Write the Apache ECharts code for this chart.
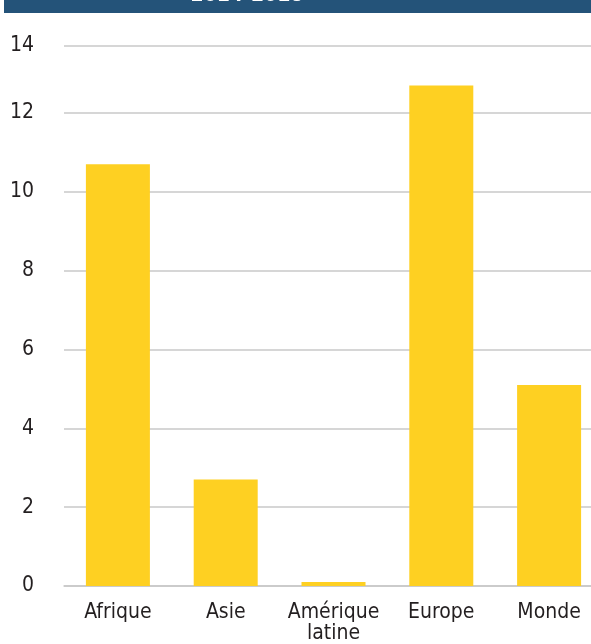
<!DOCTYPE html>
<html>
<head>
<meta charset="utf-8">
<script src="https://cdn.jsdelivr.net/npm/echarts@6/dist/echarts.min.js"></script>
<style>
html,body{margin:0;padding:0;background:#fff;overflow:hidden;width:591px;height:644px;}
#chart{width:603px;height:644px;}
</style>
</head>
<body>
<div id="chart"></div>
<script>
const title = '2014-2018';
const categories = ['Afrique', 'Asie', 'Amérique\nlatine', 'Europe', 'Monde'];
const values = [10.7, 2.7, 0.1, 12.7, 5.1];
const tickLabels = ['0', '2', '4', '6', '8', '10', '12', '14'];

const FONT = "'Liberation Sans Narrow', 'Arial Narrow', 'DejaVu Sans Condensed', sans-serif";
const chart = echarts.init(document.getElementById('chart'));
chart.setOption({
  animation: false,
  graphic: [
    { type: 'rect', shape: { x: 4, y: 0, width: 599, height: 13 }, style: { fill: '#245379' } },
    { type: 'text', x: 247, y: 6, style: { text: title, fill: '#ffffff', font: "bold 21px " + FONT, textAlign: 'center', textVerticalAlign: 'bottom' } }
  ],
  grid: { left: 64, top: 46, right: 0, bottom: 58, containLabel: false },
  xAxis: {
    type: 'category',
    data: categories,
    axisLine: { show: true, lineStyle: { color: '#c8c8c8', width: 1.5 } },
    axisTick: { show: false },
    axisLabel: { color: '#231f20', fontSize: 21, fontFamily: FONT, lineHeight: 21, margin: 16, interval: 0 }
  },
  yAxis: {
    type: 'value',
    min: 0,
    max: 13.7,
    interval: 2,
    axisLine: { show: false },
    axisTick: { show: false },
    splitLine: { show: true, lineStyle: { color: '#c8c8c8', width: 1.5 } },
    axisLabel: {
      color: '#231f20', fontSize: 21, fontFamily: FONT, margin: 30,
      formatter: v => tickLabels[Math.round(v / 2)] || ''
    }
  },
  series: [{
    type: 'bar',
    data: values,
    barWidth: 64,
    itemStyle: { color: '#fed022' }
  }]
});
</script>
</body>
</html>
